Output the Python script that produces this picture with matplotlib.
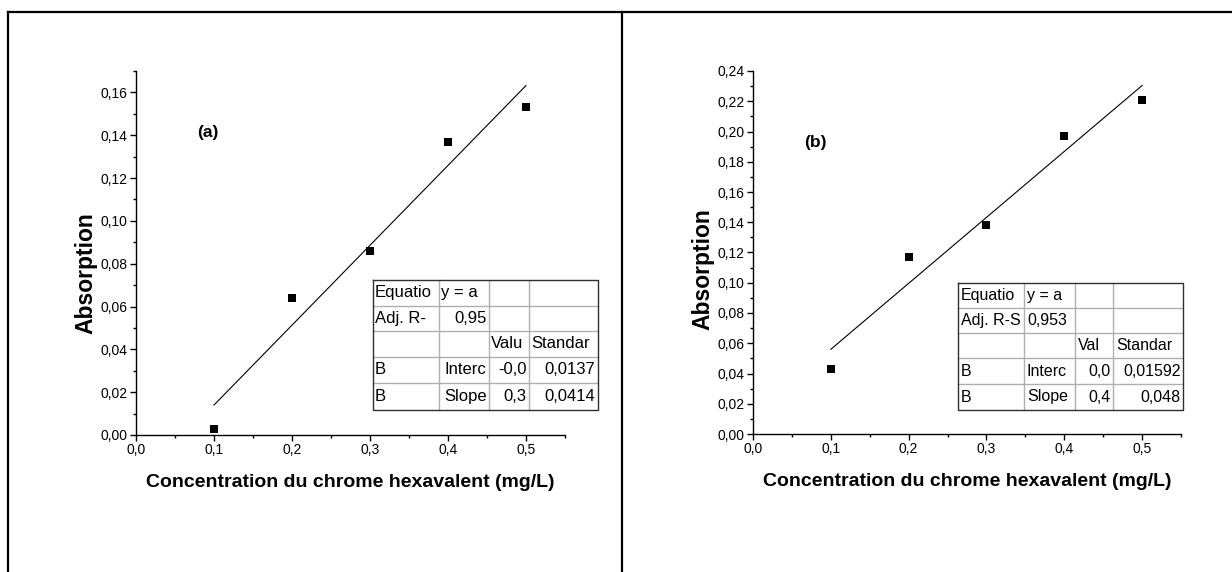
import numpy as np
import matplotlib
matplotlib.use("Agg")
import matplotlib.pyplot as plt
from matplotlib.ticker import MultipleLocator, FuncFormatter
from matplotlib.lines import Line2D

plt.rcParams['font.family'] = ['Liberation Sans', 'DejaVu Sans']

# ---- data ----
conc = [0.1, 0.2, 0.3, 0.4, 0.5]
abs_a = [0.003, 0.064, 0.086, 0.137, 0.153]
abs_b = [0.043, 0.117, 0.138, 0.197, 0.221]

xlabel = "Concentration du chrome hexavalent (mg/L)"
ylabel = "Absorption"

table_a = [["Equatio", "y = a", "", ""],
           ["Adj. R-", "0,95", "", ""],
           ["", "", "Valu", "Standar"],
           ["B", "Interc", "-0,0", "0,0137"],
           ["B", "Slope", "0,3", "0,0414"]]
table_b = [["Equatio", "y = a", "", ""],
           ["Adj. R-S", "0,953", "", ""],
           ["", "", "Val", "Standar"],
           ["B", "Interc", "0,0", "0,01592"],
           ["B", "Slope", "0,4", "0,048"]]
# alignment per cell: 'l' or 'r'
align_a = [["l", "l", "l", "l"],
           ["l", "r", "l", "l"],
           ["l", "l", "l", "l"],
           ["l", "r", "r", "r"],
           ["l", "r", "r", "r"]]
align_b = [["l", "l", "l", "l"],
           ["l", "l", "l", "l"],
           ["l", "l", "l", "l"],
           ["l", "l", "r", "r"],
           ["l", "l", "r", "r"]]

W, H = 1232, 572
fig = plt.figure(figsize=(W / 100, H / 100), dpi=100)


def fx(px):
    return px / W


def fy(py):
    return 1 - py / H


# outer frame
for xs, ys in [((7.5, 1240), (12, 12)), ((7.5, 7.5), (12, 580)), ((622, 622), (12, 580))]:
    fig.add_artist(Line2D([fx(xs[0]), fx(xs[1])], [fy(ys[0]), fy(ys[1])],
                          transform=fig.transFigure, color='black', lw=1.6))


def make_panel(rect, y, ymax, ymajor, tick_fs, ylab_fs, xlab_fs, ms, label, lab_pos,
               tab, align, cols, rows, tab_fs, ylab_coords, xlabelpad, lpad):
    x0, y0, x1, y1 = rect
    ax = fig.add_axes([fx(x0), fy(y1), fx(x1) - fx(x0), fy(y0) - fy(y1)])
    ax.set_xlim(0, 0.55)
    ax.set_ylim(0, ymax)
    for s in ['top', 'right']:
        ax.spines[s].set_visible(False)
    for s in ['left', 'bottom']:
        ax.spines[s].set_linewidth(1.0)
    ax.xaxis.set_major_locator(MultipleLocator(0.1))
    ax.xaxis.set_minor_locator(MultipleLocator(0.05))
    ax.yaxis.set_major_locator(MultipleLocator(ymajor))
    ax.yaxis.set_minor_locator(MultipleLocator(ymajor / 2))
    ax.xaxis.set_major_formatter(FuncFormatter(lambda v, p: f"{v:.1f}".replace('.', ',')))
    ax.yaxis.set_major_formatter(FuncFormatter(lambda v, p: f"{v:.2f}".replace('.', ',')))
    ax.tick_params(which='major', direction='out', length=4, width=1, labelsize=tick_fs, pad=2)
    ax.tick_params(which='minor', direction='out', length=2.5, width=1)
    ax.scatter(conc, y, marker='s', s=ms ** 2, color='black', zorder=3, linewidths=0)
    k, b = np.polyfit(conc, y, 1)
    xx = np.array([min(conc), max(conc)])
    ax.plot(xx, k * xx + b, color='black', lw=0.8)
    ax.set_xlabel(xlabel, fontsize=xlab_fs, fontweight='bold', labelpad=xlabelpad)
    ax.set_ylabel(ylabel, fontsize=ylab_fs, fontweight='bold')
    ax.yaxis.set_label_coords(*ylab_coords)
    ax.text(lab_pos[0], lab_pos[1], label, transform=ax.transAxes, fontsize=12.5,
            fontweight='bold', ha='center', va='center')

    # table
    tr = fig.transFigure
    for i in range(len(rows) - 1):
        for j in range(len(cols) - 1):
            txt = tab[i][j]
            if not txt:
                continue
            yc = (rows[i] + rows[i + 1]) / 2
            if align[i][j] == 'l':
                fig.text(fx(cols[j] + lpad), fy(yc), txt, ha='left', va='center',
                         fontsize=tab_fs, transform=tr)
            else:
                fig.text(fx(cols[j + 1] - 2.5), fy(yc), txt, ha='right', va='center',
                         fontsize=tab_fs, transform=tr)
    for c in cols[1:-1]:
        fig.add_artist(Line2D([fx(c), fx(c)], [fy(rows[0]), fy(rows[-1])],
                              transform=tr, color='#b0b0b0', lw=1.0))
    for r in rows[1:-1]:
        fig.add_artist(Line2D([fx(cols[0]), fx(cols[-1])], [fy(r), fy(r)],
                              transform=tr, color='#b0b0b0', lw=1.0))
    fig.add_artist(Line2D([fx(cols[0]), fx(cols[-1]), fx(cols[-1]), fx(cols[0]), fx(cols[0])],
                          [fy(rows[0]), fy(rows[0]), fy(rows[-1]), fy(rows[-1]), fy(rows[0])],
                          transform=tr, color='#303030', lw=1.0))
    return ax


make_panel((136, 71, 565, 435), abs_a, 0.17, 0.02, 10, 16.5, 14, 6, "(a)", (0.168, 0.832),
           table_a, align_a, [373, 439, 489, 529, 598], [280, 306, 331, 357, 383, 410], 12,
           ylab_coords=(-0.09, 0.445), xlabelpad=12, lpad=2)
make_panel((753, 71, 1181, 434), abs_b, 0.24, 0.02, 10, 16.5, 14, 6, "(b)", (0.145, 0.804),
           table_b, align_b, [958, 1024, 1075, 1113, 1183], [283, 308, 333, 358, 384, 410], 11.5,
           ylab_coords=(-0.09, 0.455), xlabelpad=12, lpad=3)

fig.savefig("out.png", dpi=100)
